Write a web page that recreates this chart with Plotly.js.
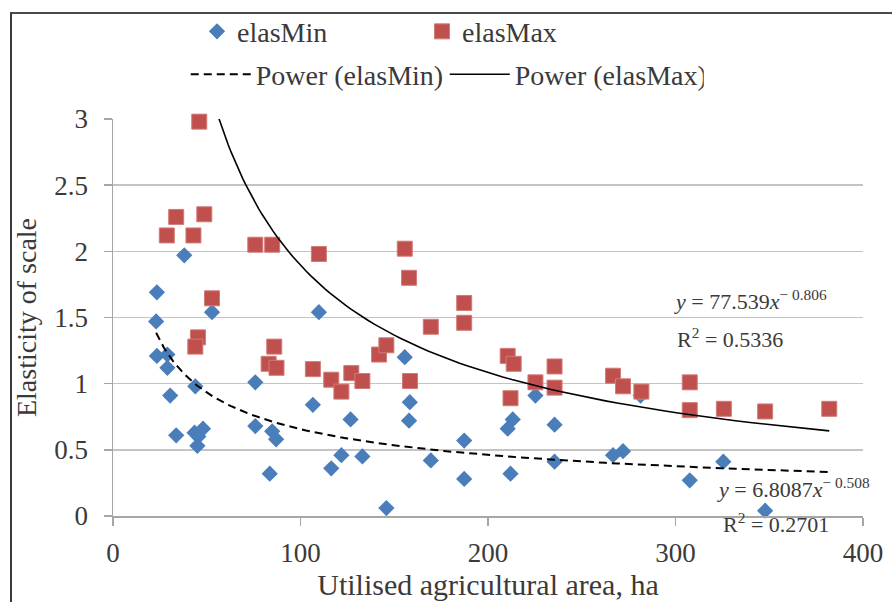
<!DOCTYPE html>
<html>
<head>
<meta charset="utf-8">
<script src="https://cdn.plot.ly/plotly-3.0.1.min.js"></script>
<style>
  html, body { margin: 0; padding: 0; background: #fff; overflow: hidden; }
  #wrap { position: relative; width: 892px; height: 602px; }
  #plot { position: absolute; left: 0; top: 0; width: 892px; height: 602px; }
  #frame { position: absolute; left: 10px; top: 12px; width: 890px; height: 600px;
           border-left: 2px solid #3a3a3a; border-top: 2px solid #4a4a4a;
           pointer-events: none; }
</style>
</head>
<body>
<div id="wrap">
  <div id="plot"></div>
  <div id="frame"></div>
</div>
<script>
// elasMin (blue diamonds)
const minX = [23.4, 23.0, 23.4, 29.0, 29.0, 30.5, 33.7, 38.0, 43.9, 43.5, 45.5, 48.0, 45.0, 52.8,
              75.9, 75.9, 84.9, 87.0, 83.6, 106.6, 109.8, 116.4, 121.8, 126.7, 133.0, 145.8,
              155.6, 158.3, 157.9, 169.5, 187.3, 187.3, 210.5, 213.2, 212.0, 225.3, 235.5, 235.5,
              266.7, 272.0, 281.4, 307.6, 325.5, 347.8];
const minY = [1.69, 1.47, 1.21, 1.22, 1.12, 0.91, 0.61, 1.97, 0.98, 0.63, 0.60, 0.66, 0.53, 1.54,
              1.01, 0.68, 0.64, 0.58, 0.32, 0.84, 1.54, 0.36, 0.46, 0.73, 0.45, 0.06,
              1.20, 0.86, 0.72, 0.42, 0.57, 0.28, 0.66, 0.73, 0.32, 0.91, 0.69, 0.41,
              0.46, 0.49, 0.91, 0.27, 0.41, 0.04];
// elasMax (red squares)
const maxX = [28.7, 33.7, 42.9, 48.7, 46.0, 52.8, 45.3, 43.9, 75.9, 84.9, 109.8, 86.0, 83.0, 87.2,
              106.6, 116.4, 121.8, 127.1, 133.0, 141.9, 145.8, 155.6, 157.9, 158.4, 169.5,
              187.3, 187.3, 210.5, 213.7, 212.0, 225.3, 235.5, 235.5, 266.7, 272.0, 281.8,
              307.6, 307.6, 325.8, 347.8, 382.0];
const maxY = [2.12, 2.26, 2.12, 2.28, 2.98, 1.645, 1.35, 1.28, 2.05, 2.05, 1.98, 1.28, 1.15, 1.12,
              1.11, 1.03, 0.94, 1.08, 1.02, 1.22, 1.29, 2.02, 1.80, 1.02, 1.43,
              1.61, 1.46, 1.21, 1.15, 0.89, 1.01, 1.13, 0.97, 1.06, 0.98, 0.94,
              1.01, 0.80, 0.81, 0.79, 0.81];

// Power trendline coefficients as printed on the chart
const minCoef = 6.8087, minExp = -0.508, minR2 = 0.2701;
const maxCoef = 77.539, maxExp = -0.806, maxR2 = 0.5336;

const xTicks = [0, 100, 200, 300, 400];
const yTicks = [0, 0.5, 1, 1.5, 2, 2.5, 3];

function powerCurve(xs, a, b) {
  const lo = Math.min(...xs), hi = Math.max(...xs), n = 120;
  const cx = [], cy = [];
  for (let i = 0; i <= n; i++) {
    const x = lo * Math.pow(hi / lo, i / n);
    cx.push(x); cy.push(a * Math.pow(x, b));
  }
  return {cx, cy};
}
const allX = minX.concat(maxX);
const cMin = powerCurve(allX, minCoef, minExp);
const cMax = powerCurve(allX, maxCoef, maxExp);

const FONT = 'Liberation Serif, Times New Roman, DejaVu Serif, serif';
const TXT = '#3a3a3a';

const traces = [
  {x: minX, y: minY, type: 'scatter', mode: 'markers', name: 'elasMin', legend: 'legend',
   marker: {symbol: 'diamond', size: 12.5, color: '#4a7ebb', line: {width: 0}}, cliponaxis: false},
  {x: maxX, y: maxY, type: 'scatter', mode: 'markers', name: 'elasMax', legend: 'legend',
   marker: {symbol: 'square', size: 15, color: '#c0504d', line: {width: 1, color: '#d27b78'}}, cliponaxis: false},
  {x: cMin.cx, y: cMin.cy, type: 'scatter', mode: 'lines', name: 'Power (elasMin)', legend: 'legend2',
   line: {color: '#000', width: 2, dash: '8px,5px'}},
  {x: cMax.cx, y: cMax.cy, type: 'scatter', mode: 'lines', name: 'Power (elasMax)', legend: 'legend2',
   line: {color: '#000', width: 1.6}}
];

const layout = {
  width: 892, height: 602,
  margin: {l: 113, r: 29, t: 119, b: 86, pad: 0, autoexpand: false},
  paper_bgcolor: '#fff', plot_bgcolor: '#fff',
  font: {family: FONT, color: TXT, size: 24},
  xaxis: {
    range: [0, 400], tickvals: xTicks, ticktext: xTicks.map(String),
    showgrid: false, zeroline: false, showline: true, linecolor: '#a6a6a6', linewidth: 1.5,
    ticks: 'outside', ticklen: 8, tickcolor: '#a6a6a6', tickwidth: 1.5,
    tickfont: {family: FONT, size: 27, color: TXT}, ticklabelstandoff: 4,
    title: {text: 'Utilised agricultural area, ha', font: {family: FONT, size: 30, color: TXT}, standoff: 6}
  },
  yaxis: {
    range: [0, 3], tickvals: yTicks, ticktext: yTicks.map(String),
    showgrid: true, gridcolor: '#c4c4c4', gridwidth: 1.5, zeroline: false,
    showline: true, linecolor: '#a6a6a6', linewidth: 1.5,
    ticks: 'outside', ticklen: 8, tickcolor: '#a6a6a6', tickwidth: 1.5,
    tickfont: {family: FONT, size: 27, color: TXT}, ticklabelstandoff: 10,
    title: {text: 'Elasticity of scale', font: {family: FONT, size: 28, color: TXT}, standoff: 9}
  },
  showlegend: true,
  legend: {orientation: 'h', x: 0.112, xanchor: 'left', y: 1.22, yanchor: 'middle',
           font: {family: FONT, size: 28, color: TXT}, bgcolor: 'rgba(0,0,0,0)',
           entrywidth: 180, entrywidthmode: 'pixels', itemclick: false},
  legend2: {orientation: 'h', x: 0.097, xanchor: 'left', y: 1.112, yanchor: 'middle',
           font: {family: FONT, size: 28, color: TXT}, bgcolor: 'rgba(0,0,0,0)',
           itemwidth: 60, entrywidth: 184, entrywidthmode: 'pixels', itemclick: false},
  annotations: [
    {x: 298, y: 1.63, xref: 'x', yref: 'y', xanchor: 'left', yanchor: 'middle', showarrow: false,
     text: '<i>y</i> = ' + maxCoef.toFixed(3) + '<i>x</i><sup>\u2212 ' + Math.abs(maxExp).toFixed(3) + '</sup>',
     font: {family: FONT, size: 22, color: TXT}},
    {x: 299.5, y: 1.345, xref: 'x', yref: 'y', xanchor: 'left', yanchor: 'middle', showarrow: false,
     text: 'R<sup>2</sup> = ' + maxR2.toFixed(4), font: {family: FONT, size: 22, color: TXT}},
    {x: 321, y: 0.21, xref: 'x', yref: 'y', xanchor: 'left', yanchor: 'middle', showarrow: false,
     text: '<i>y</i> = ' + minCoef.toFixed(4) + '<i>x</i><sup>\u2212 ' + Math.abs(minExp).toFixed(3) + '</sup>',
     font: {family: FONT, size: 22, color: TXT}},
    {x: 0.81, y: -0.018, xref: 'paper', yref: 'paper', xanchor: 'left', yanchor: 'middle', showarrow: false,
     text: 'R<sup>2</sup> = ' + minR2.toFixed(4), font: {family: FONT, size: 22, color: TXT}}
  ]
};

Plotly.newPlot('plot', traces, layout, {staticPlot: true, displayModeBar: false});
</script>
</body>
</html>
